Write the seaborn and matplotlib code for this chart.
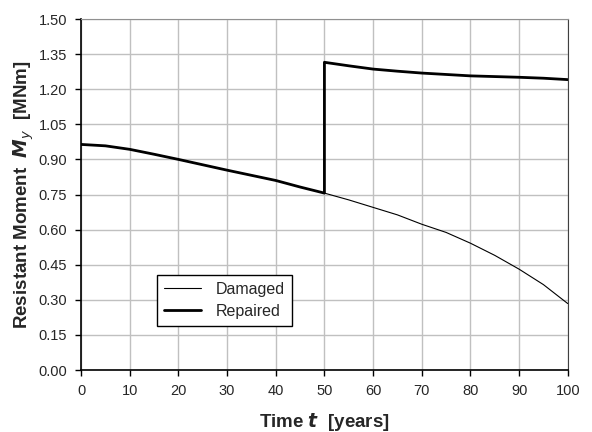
# Resistant moment of a damaged vs repaired section over time
import pandas as pd
import matplotlib
matplotlib.use("Agg")
import matplotlib.pyplot as plt
import seaborn as sns

# Data
years = [0, 5, 10, 15, 20, 25, 30, 35, 40, 45, 50, 55, 60, 65, 70, 75, 80, 85, 90, 95, 100]
damaged = [0.964, 0.958, 0.943, 0.922, 0.900, 0.877, 0.854, 0.832, 0.810, 0.782, 0.756,
           0.727, 0.695, 0.663, 0.623, 0.588, 0.542, 0.490, 0.431, 0.365, 0.284]

repaired_years = [0, 5, 10, 15, 20, 25, 30, 35, 40, 45, 50, 50, 55, 60, 65, 70, 75, 80, 85, 90, 95, 100]
repaired = [0.964, 0.958, 0.943, 0.922, 0.900, 0.877, 0.854, 0.832, 0.810, 0.782, 0.756,
            1.315, 1.300, 1.286, 1.277, 1.269, 1.263, 1.257, 1.254, 1.251, 1.247, 1.241]

x_ticks = [0, 10, 20, 30, 40, 50, 60, 70, 80, 90, 100]
y_ticks = [0.00, 0.15, 0.30, 0.45, 0.60, 0.75, 0.90, 1.05, 1.20, 1.35, 1.50]

df = pd.concat([
    pd.DataFrame({"t": years, "M": damaged, "case": "Damaged"}),
    pd.DataFrame({"t": repaired_years, "M": repaired, "case": "Repaired"}),
], ignore_index=True)

sns.set_style("whitegrid")
plt.rcParams["font.family"] = ["Liberation Sans", "DejaVu Sans"]

fig = plt.figure(figsize=(5.92, 4.32), dpi=100)
ax = fig.add_axes([0.137, 0.1435, 0.822, 0.8125])

sns.lineplot(data=df, x="t", y="M", hue="case", size="case",
             sizes={"Damaged": 0.8, "Repaired": 2.0},
             palette={"Damaged": "black", "Repaired": "black"},
             estimator=None, sort=False, ax=ax)

ax.set_xlim(0, 100)
ax.set_ylim(0, 1.5)
ax.set_xticks(x_ticks)
ax.set_yticks(y_ticks)
ax.set_yticklabels([f"{v:.2f}" for v in y_ticks])
ax.tick_params(axis="both", labelsize=10.5, length=4, width=1, color="black",
               direction="out", bottom=True, left=True, pad=6)
ax.grid(True, color="#c0c0c0", linewidth=1)

for side in ["left", "bottom"]:
    ax.spines[side].set_color("black")
    ax.spines[side].set_linewidth(1.2)
ax.spines["right"].set_color("#404040")
ax.spines["top"].set_color("#909090")

ax.set_xlabel("Time $\\mathbfit{t}$  [years]", fontsize=13.5, fontweight="bold", labelpad=9.5)
ax.set_ylabel("Resistant Moment  $\\mathbfit{M}_{\\mathit{y}}$  [MNm]", fontsize=13.5,
              fontweight="bold", labelpad=2)

handles, labels = ax.get_legend_handles_labels()
leg = ax.legend(handles=handles, labels=labels, loc="lower left",
                bbox_to_anchor=(0.156, 0.125), borderaxespad=0, fontsize=11.5,
                frameon=True, fancybox=False, edgecolor="black", framealpha=1,
                borderpad=0.45, handlelength=2.3, handletextpad=0.9,
                labelspacing=0.45)
leg.get_frame().set_linewidth(1)

fig.savefig("out.png", dpi=100)
